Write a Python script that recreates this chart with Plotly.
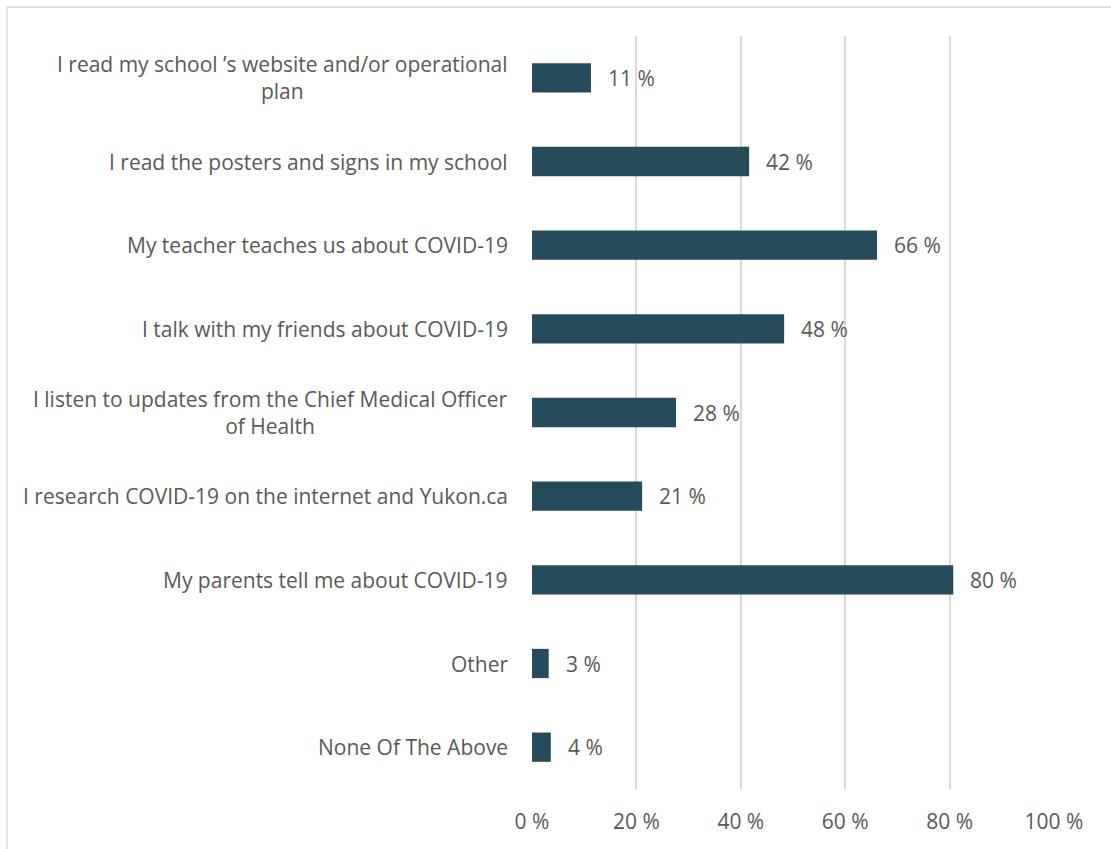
import plotly.graph_objects as go

categories = [
    "I read my school ’s website and/or operational<br>plan",
    "I read the posters and signs in my school",
    "My teacher teaches us about COVID-19",
    "I talk with my friends about COVID-19",
    "I listen to updates from the Chief Medical Officer<br>of Health",
    "I research COVID-19 on the internet and Yukon.ca",
    "My parents tell me about COVID-19",
    "Other",
    "None Of The Above",
]
values = [11.3, 41.6, 66.1, 48.3, 27.6, 21.1, 80.7, 3.2, 3.6]
value_labels = ["11 %", "42 %", "66 %", "48 %", "28 %", "21 %", "80 %", "3 %", "4 %"]
x_ticks = [0, 20, 40, 60, 80, 100]
x_tick_text = ["0 %", "20 %", "40 %", "60 %", "80 %", "100 %"]

FONT = "Open Sans"
TEXT_COLOR = "#595959"
FS = 21

fig = go.Figure()
fig.add_trace(go.Bar(
    y=categories, x=values, orientation="h",
    marker=dict(color="#264B5B", line=dict(width=0)),
    width=0.35, hoverinfo="skip",
))

annotations = []
for c, v, lab in zip(categories, values, value_labels):
    annotations.append(dict(
        x=v, y=c, xref="x", yref="y", text=lab, showarrow=False,
        xanchor="left", yanchor="middle", xshift=15,
        font=dict(family=FONT, size=FS, color=TEXT_COLOR),
    ))
    annotations.append(dict(
        x=0, y=c, xref="paper", yref="y", text=c, showarrow=False,
        xanchor="right", yanchor="middle", align="center", xshift=-22,
        font=dict(family=FONT, size=FS, color=TEXT_COLOR),
    ))

fig.update_layout(
    width=1111, height=849,
    margin=dict(l=532, r=57, t=36, b=60),
    paper_bgcolor="white", plot_bgcolor="white",
    showlegend=False,
    annotations=annotations,
    xaxis=dict(
        range=[0, 100], tickmode="array", tickvals=x_ticks, ticktext=x_tick_text,
        showgrid=True, gridcolor="#D9D9D9", gridwidth=1.5,
        zeroline=False, showline=False,
        ticks="outside", ticklen=14, tickcolor="rgba(0,0,0,0)",
        tickfont=dict(family=FONT, size=FS, color=TEXT_COLOR),
        fixedrange=True,
    ),
    yaxis=dict(
        autorange="reversed", showticklabels=False, showgrid=False,
        zeroline=False, showline=False, fixedrange=True,
    ),
    shapes=[dict(
        type="rect", xref="paper", yref="paper",
        x0=(7 - 532) / 522, x1=(1120 - 532) / 522,
        y0=(849 - 60 - 860) / 753, y1=(849 - 60 - 7) / 753,
        line=dict(color="#D9D9D9", width=1.5), fillcolor="rgba(0,0,0,0)",
        layer="below",
    )],
)

fig.write_html(
    "out.html",
    config={"displayModeBar": False},
    post_script="document.body.style.margin='0';document.body.style.overflow='hidden';",
)
